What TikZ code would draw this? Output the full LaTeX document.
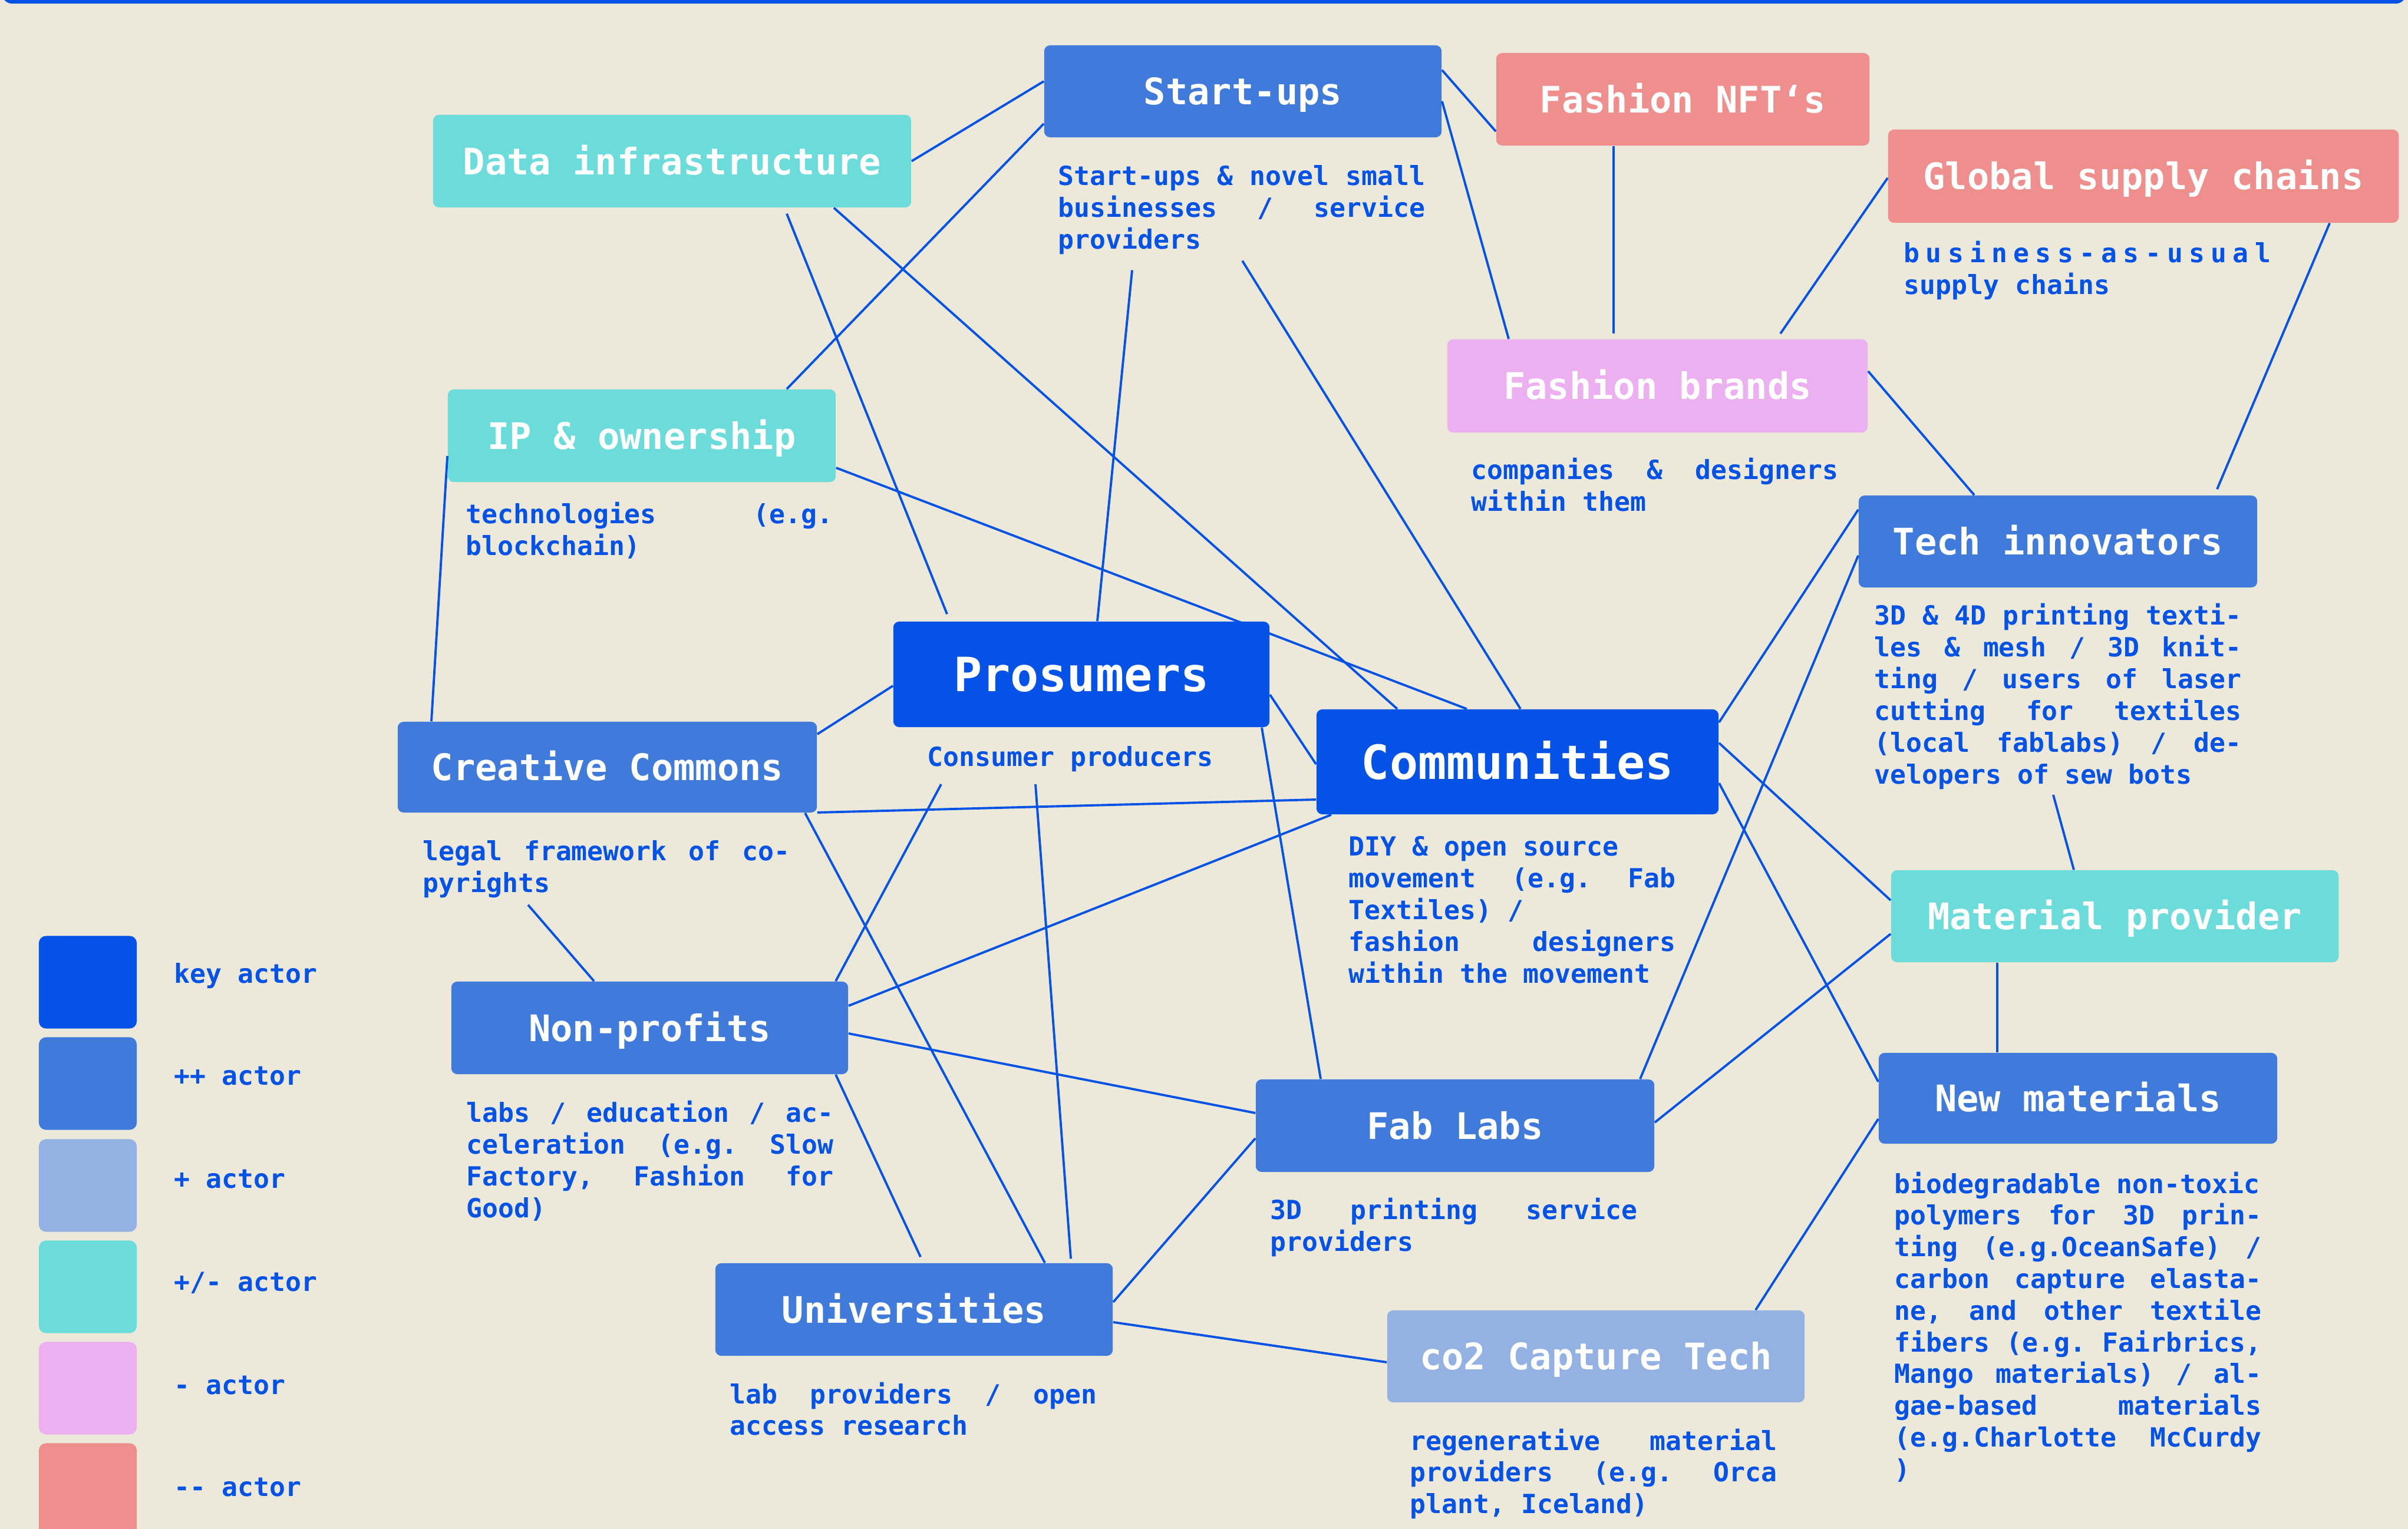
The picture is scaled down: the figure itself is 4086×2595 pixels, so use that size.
\documentclass[tikz,border=0pt]{standalone}
\usepackage{fontspec}
\setmonofont{DejaVu Sans Mono}
\usetikzlibrary{calc}
\definecolor{bg}{HTML}{ECE9DA}
\definecolor{keyc}{HTML}{0552E6}
\definecolor{ppc}{HTML}{407BDC}
\definecolor{pc}{HTML}{93B2E3}
\definecolor{pmc}{HTML}{6BDCD9}
\definecolor{mc}{HTML}{ECB0F0}
\definecolor{mmc}{HTML}{EF8F8D}
\definecolor{ink}{HTML}{0552E6}
\newcommand\jl[1]{\leavevmode\hbox to \hsize{\frenchspacing\spaceskip=\fontdimen2\font plus 1fil\relax #1}}
\newcommand\nsp{\frenchspacing\spaceskip=0pt\relax\xspaceskip=0pt\relax}
\begin{document}
\begin{tikzpicture}[x=0.01cm,y=-0.01cm,
  actor/.style={rounded corners=0.1cm, inner sep=0pt, text=white,
    font=\ttfamily\bfseries\fontsize{17.64pt}{21pt}\selectfont,
    text height=12.9pt, text depth=0pt,
    minimum width=6.74cm, minimum height=1.56cm, fill=ppc},
  keyactor/.style={actor, fill=keyc,
    font=\ttfamily\bfseries\fontsize{22.76pt}{27pt}\selectfont,
    text height=16.6pt, minimum height=1.78cm},
  desc/.style={anchor=base west, inner sep=0pt, text=ink, text width=6.22cm,
    font=\ttfamily\bfseries\fontsize{12.72pt}{15.3pt}\selectfont},
  link/.style={draw=ink, line width=1.1pt},
  legsq/.style={rounded corners=0.12cm, minimum width=1.66cm, minimum height=1.57cm, inner sep=0pt},
  leglab/.style={anchor=base west, inner sep=0pt, text=ink,
    font=\ttfamily\bfseries\fontsize{12.72pt}{15.3pt}\selectfont}
]
\fill[bg] (0,0) rectangle (4086,2595);
\useasboundingbox (0,0) rectangle (4086,2595);
\clip (0,0) rectangle (4086,2595);
\draw[ink, line width=1.8pt, rounded corners=0.15cm] (6,-100) -- (6,3) -- (4080,3) -- (4080,-100);

% actors
\node[actor] (startups) at (2109,155) {Start-ups};
\node[actor, fill=mmc, minimum width=6.33cm, minimum height=1.57cm] (nft) at (2855.5,168.5) {Fashion NFT‘s};
\node[actor, fill=mmc, minimum width=8.66cm, minimum height=1.58cm] (global) at (3637,299) {Global supply chains};
\node[actor, fill=mc, minimum width=7.13cm, minimum height=1.58cm] (brands) at (2812.5,655) {Fashion brands};
\node[actor, fill=pmc, minimum width=8.11cm, minimum height=1.57cm] (datainf) at (1140.5,273.5) {Data infrastructure};
\node[actor, fill=pmc, minimum width=6.58cm, minimum height=1.57cm] (ip) at (1089,739.5) {IP \& ownership};
\node[actor, minimum width=6.76cm] (tech) at (3492,919) {Tech innovators};
\node[actor, fill=pmc, minimum width=7.59cm] (material) at (3588.5,1555) {Material provider};
\node[actor, minimum width=6.76cm, minimum height=1.54cm] (newmat) at (3526,1864) {New materials};
\node[actor, fill=pc, minimum width=7.08cm] (co2) at (2708,2302) {co2 Capture Tech};
\node[actor, minimum height=1.57cm] (univ) at (1551,2222.5) {Universities};
\node[actor, minimum width=6.76cm, minimum height=1.57cm] (fablabs) at (2469,1910.5) {Fab Labs};
\node[actor, minimum width=6.73cm, minimum height=1.57cm] (nonprofits) at (1102.5,1744.5) {Non-profits};
\node[actor, minimum width=7.11cm, minimum height=1.54cm] (cc) at (1030.5,1302) {Creative Commons};
\node[keyactor, minimum width=6.38cm, minimum height=1.79cm] (prosumers) at (1835,1144.5) {Prosumers};
\node[keyactor, minimum width=6.82cm] (communities) at (2575,1293) {Communities};

% descriptions
\node[desc] (sdesc) at (1795,315) {\nsp\jl{Start-ups \& novel small}\\\jl{businesses / service}\\providers};
\node[desc] (bdesc) at (2496,814) {\nsp\jl{companies \& designers}\\within them};
\node[desc] (gdesc) at (3230,446) {\nsp\leavevmode\hbox to \hsize{b\hfill u\hfill s\hfill i\hfill n\hfill e\hfill s\hfill s\hfill -\hfill a\hfill s\hfill -\hfill u\hfill s\hfill u\hfill a\hfill l}\\supply chains};
\node[desc] (ipdesc) at (790,889) {\nsp\jl{technologies (e.g.}\\blockchain)};
\node[desc] (techdesc) at (3180,1061) {\nsp\jl{3D \& 4D printing texti-}\\\jl{les \& mesh / 3D knit-}\\\jl{ting / users of laser}\\\jl{cutting for textiles}\\\jl{(local fablabs) / de-}\\velopers of sew bots};
\node[desc] (ccdesc) at (717,1461) {\nsp\jl{legal framework of co-}\\pyrights};
\node[desc] (pdesc) at (1573,1301) {\nsp Consumer producers};
\node[desc, text width=5.54cm] (cdesc) at (2288,1453) {\nsp DIY \& open source\\\jl{movement (e.g. Fab}\\Textiles) /\\\jl{fashion designers}\\within the movement};
\node[desc] (npdesc) at (791,1905) {\nsp\jl{labs / education / ac-}\\\jl{celeration (e.g. Slow}\\\jl{Factory, Fashion for}\\Good)};
\node[desc] (fdesc) at (2155,2070) {\nsp\jl{3D printing service}\\providers};
\node[desc] (udesc) at (1238,2382) {\nsp\jl{lab providers / open}\\access research};
\node[desc] (co2desc) at (2392,2461) {\nsp\jl{regenerative material}\\\jl{providers (e.g. Orca}\\plant, Iceland)};
\node[desc] (nmdesc) at (3214,2025) {\nsp biodegradable non-toxic\\\jl{polymers for 3D prin-}\\\jl{ting (e.g.OceanSafe) /}\\\jl{carbon capture elasta-}\\\jl{ne, and other textile}\\\jl{fibers (e.g. Fairbrics,}\\\jl{Mango materials) / al-}\\\jl{gae-based materials}\\\jl{(e.g.Charlotte McCurdy}\\)};

% legend
\node[legsq, fill=keyc] (lg1) at (149,1667) {};
\node[legsq, fill=ppc] (lg2) at (149,1839) {};
\node[legsq, fill=pc] (lg3) at (149,2012) {};
\node[legsq, fill=pmc] (lg4) at (149,2184) {};
\node[legsq, fill=mc] (lg5) at (149,2356) {};
\node[legsq, fill=mmc] (lg6) at (149,2528) {};
\node[leglab] (lt1) at (295,1669) {key actor};
\node[leglab] (lt2) at (295,1842) {++ actor};
\node[leglab] (lt3) at (295,2017) {+ actor};
\node[leglab] (lt4) at (295,2191) {+/- actor};
\node[leglab] (lt5) at (295,2366) {- actor};
\node[leglab] (lt6) at (295,2539) {{-}{-} actor};

% connectors
\draw[link] (datainf.east) -- (startups.west |- 0,138);
\draw[link] (ip.north -| 1335,0) -- (startups.west |- 0,210);
\draw[link] ($(datainf.south -| 1335,0)+(0,10)$) -- ($(prosumers.north -| 1607,0)+(0,-12)$);
\draw[link] (datainf.south -| 1415,0) -- (communities.north -| 2371,0);
\draw[link] ($(sdesc.south -| 1921,0)+(0,26)$) -- (prosumers.north -| 1862,0);
\draw[link] ($(sdesc.south -| 2108,0)+(0,10)$) -- (communities.north -| 2580,0);
\draw[link] (startups.east |- 0,119) -- (nft.west |- 0,223);
\draw[link] (startups.east |- 0,172) -- (brands.north -| 2560,0);
\draw[link] (nft.south -| 2738,0) -- ($(brands.north -| 2738,0)+(0,-9)$);
\draw[link] (global.west |- 0,302) -- ($(brands.north -| 3021,0)+(0,-9)$);
\draw[link] (global.south -| 3953,0) -- ($(tech.north -| 3762,0)+(0,-10)$);
\draw[link] (brands.east |- 0,630) -- (tech.north -| 3350,0);
\draw[link] (ip.west |- 0,774) -- (cc.north -| 732,0);
\draw[link] (ip.east |- 0,794) -- (communities.north -| 2489,0);
\draw[link] (prosumers.west |- 0,1164) -- (cc.east |- 0,1246);
\draw[link] (prosumers.east |- 0,1179) -- (communities.west |- 0,1297);
\draw[link] (prosumers.south -| 2141,0) -- (fablabs.north -| 2241,0);
\draw[link] (cc.east |- 0,1379) -- (communities.west |- 0,1357);
\draw[link] (cc.south -| 1366,0) -- (univ.north -| 1773,0);
\draw[link] ($(ccdesc.south -| 896,0)+(0,11)$) -- (nonprofits.north -| 1008,0);
\draw[link] ($(pdesc.south -| 1597,0)+(0,20)$) -- (nonprofits.north -| 1418,0);
\draw[link] ($(pdesc.south -| 1757,0)+(0,20)$) -- ($(univ.north -| 1817,0)+(0,-7)$);
\draw[link] (communities.south -| 2259,0) -- (nonprofits.east |- 0,1707);
\draw[link] (nonprofits.east |- 0,1754) -- (fablabs.west |- 0,1889);
\draw[link] (nonprofits.south -| 1418,0) -- ($(univ.north -| 1562,0)+(0,-10)$);
\draw[link] (univ.east |- 0,2210) -- (fablabs.west |- 0,1932);
\draw[link] (univ.east |- 0,2244) -- (co2.west |- 0,2312);
\draw[link] (communities.east |- 0,1226) -- (tech.west |- 0,865);
\draw[link] (fablabs.north -| 2783,0) -- (tech.west |- 0,943);
\draw[link] (communities.east |- 0,1261) -- (material.west |- 0,1528);
\draw[link] (communities.east |- 0,1329) -- (newmat.west |- 0,1836);
\draw[link] (fablabs.east |- 0,1905) -- (material.west |- 0,1585);
\draw[link] ($(techdesc.south -| 3484,0)+(0,9)$) -- (material.north -| 3519,0);
\draw[link] (material.south -| 3389,0) -- (newmat.north -| 3389,0);
\draw[link] (newmat.west |- 0,1899) -- (co2.north -| 2979,0);
\end{tikzpicture}
\end{document}
